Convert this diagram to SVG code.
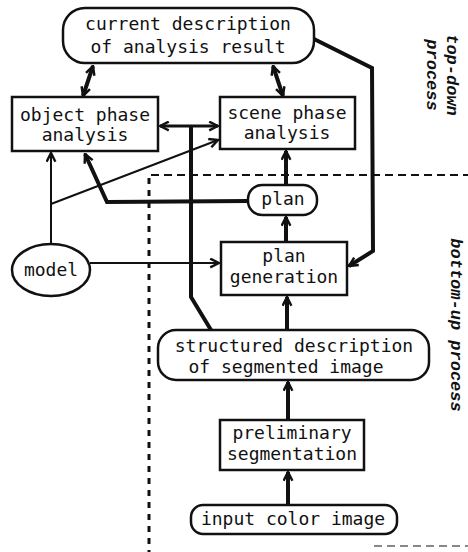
<svg xmlns="http://www.w3.org/2000/svg" width="468" height="552" viewBox="0 0 468 552">
<defs>
<style>
.box{fill:#fff;stroke:#111;stroke-width:2.5}
.t{font-family:"DejaVu Sans Mono","Liberation Mono",monospace;font-size:18px;fill:#111;text-anchor:middle}
.side{font-family:"Liberation Mono","DejaVu Sans Mono",monospace;font-style:italic;font-weight:bold;font-size:17px;fill:#111;text-anchor:middle}
.thick{fill:none;stroke:#111;stroke-width:4}
.med{fill:none;stroke:#111;stroke-width:3}
.thin{fill:none;stroke:#111;stroke-width:2}
.dash{fill:none;stroke:#111;stroke-width:2;stroke-dasharray:8 5}
.vdash{fill:none;stroke:#111;stroke-width:3;stroke-dasharray:6 6}
</style>
<marker id="a" viewBox="0 0 10 10" refX="9" refY="5" markerWidth="11" markerHeight="11" markerUnits="userSpaceOnUse" orient="auto-start-reverse">
<path d="M1,1 L9,5 L1,9" fill="none" stroke="#111" stroke-width="2.2"/>
</marker>
</defs>

<g id="process-boundaries">
<line class="dash" x1="151" y1="175" x2="468" y2="175"/>
<line class="vdash" x1="149" y1="178" x2="149" y2="552"/>
<line class="dash" x1="374" y1="546" x2="468" y2="546" stroke-opacity="0.5"/>
</g>

<g id="connectors">
<line class="thick" x1="93" y1="66" x2="83" y2="96" marker-start="url(#a)" marker-end="url(#a)"/>
<line class="thick" x1="273" y1="66" x2="283" y2="96" marker-start="url(#a)" marker-end="url(#a)"/>
<polyline class="thick" points="314,39 372,68 373,251 349,266" marker-end="url(#a)"/>
<line class="med" x1="160" y1="126" x2="218" y2="126" marker-start="url(#a)" marker-end="url(#a)"/>
<polyline class="thick" points="191,126 191,297 211,330"/>
<polyline class="thick" points="248,201 107,202 85,154" marker-end="url(#a)"/>
<line class="thick" x1="286" y1="185" x2="286" y2="151" marker-end="url(#a)"/>
<line class="thick" x1="286" y1="242" x2="286" y2="217" marker-end="url(#a)"/>
<line class="thin" x1="51" y1="244" x2="51" y2="153" marker-end="url(#a)"/>
<line class="thin" x1="51" y1="204" x2="218" y2="140" marker-end="url(#a)"/>
<line class="thin" x1="90" y1="263" x2="219" y2="263" marker-end="url(#a)"/>
<line class="thick" x1="287" y1="330" x2="287" y2="297" marker-end="url(#a)"/>
<line class="thick" x1="288" y1="420" x2="288" y2="382" marker-end="url(#a)"/>
<line class="thick" x1="288" y1="505" x2="288" y2="472" marker-end="url(#a)"/>
</g>

<g id="current-description">
<rect class="box" x="63" y="8" width="251" height="55" rx="22"/>
<text class="t" x="188" y="30">current description</text>
<text class="t" x="188" y="53">of analysis result</text>
</g>

<g id="object-phase-analysis">
<rect class="box" x="12" y="97" width="146" height="54"/>
<text class="t" x="85" y="121">object phase</text>
<text class="t" x="85" y="141">analysis</text>
</g>

<g id="scene-phase-analysis">
<rect class="box" x="220" y="97" width="135" height="52"/>
<text class="t" x="287" y="119">scene phase</text>
<text class="t" x="287" y="139">analysis</text>
</g>

<g id="plan">
<rect class="box" x="248" y="185" width="69" height="30" rx="14"/>
<text class="t" x="283" y="205">plan</text>
</g>

<g id="model">
<ellipse class="box" cx="51" cy="270" rx="39" ry="26"/>
<text class="t" x="51" y="276">model</text>
</g>

<g id="plan-generation">
<rect class="box" x="221" y="242" width="126" height="53"/>
<text class="t" x="284" y="262">plan</text>
<text class="t" x="284" y="283">generation</text>
</g>

<g id="structured-description">
<rect class="box" x="158" y="330" width="271" height="50" rx="18"/>
<text class="t" x="294" y="352">structured description</text>
<text class="t" x="286" y="373">of segmented image</text>
</g>

<g id="preliminary-segmentation">
<rect class="box" x="220" y="420" width="144" height="50"/>
<text class="t" x="292" y="439">preliminary</text>
<text class="t" x="292" y="460">segmentation</text>
</g>

<g id="input-color-image">
<rect class="box" x="191" y="505" width="206" height="29" rx="12"/>
<text class="t" x="293" y="525">input color image</text>
</g>

<g id="side-labels">
<text class="side" transform="translate(447,75) rotate(90)"><tspan x="0" y="0">top-down</tspan><tspan x="0" y="20">process</tspan></text>
<text class="side" transform="translate(451,325) rotate(90)">bottom-up process</text>
</g>
</svg>
